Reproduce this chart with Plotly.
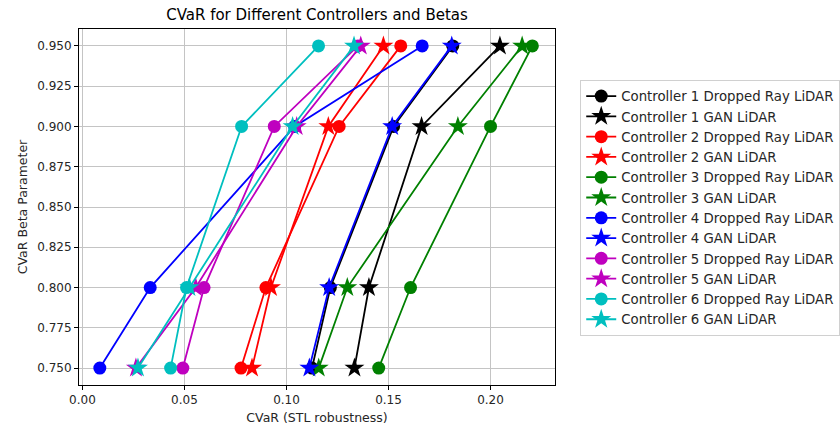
import plotly.graph_objects as go

betas = [0.75, 0.80, 0.90, 0.95]

c1_dropped = [0.1125, 0.1215, 0.1525, 0.1815]
c1_gan = [0.1333, 0.1404, 0.1662, 0.2046]
c2_dropped = [0.0777, 0.0899, 0.1258, 0.1560]
c2_gan = [0.0831, 0.0924, 0.1205, 0.1475]
c3_dropped = [0.1452, 0.1608, 0.2000, 0.2205]
c3_gan = [0.1158, 0.1298, 0.1840, 0.2155]
c4_dropped = [0.0085, 0.0332, 0.1040, 0.1665]
c4_gan = [0.1112, 0.1209, 0.1518, 0.1810]
c5_dropped = [0.0492, 0.0596, 0.0940, 0.1350]
c5_gan = [0.0262, 0.0555, 0.1050, 0.1364]
c6_dropped = [0.0432, 0.0510, 0.0780, 0.1157]
c6_gan = [0.0272, 0.0524, 0.1030, 0.1331]

series = [
    ("Controller 1 Dropped Ray LiDAR", c1_dropped, "#000000", "circle"),
    ("Controller 1 GAN LiDAR", c1_gan, "#000000", "star"),
    ("Controller 2 Dropped Ray LiDAR", c2_dropped, "#ff0000", "circle"),
    ("Controller 2 GAN LiDAR", c2_gan, "#ff0000", "star"),
    ("Controller 3 Dropped Ray LiDAR", c3_dropped, "#008000", "circle"),
    ("Controller 3 GAN LiDAR", c3_gan, "#008000", "star"),
    ("Controller 4 Dropped Ray LiDAR", c4_dropped, "#0000ff", "circle"),
    ("Controller 4 GAN LiDAR", c4_gan, "#0000ff", "star"),
    ("Controller 5 Dropped Ray LiDAR", c5_dropped, "#bf00bf", "circle"),
    ("Controller 5 GAN LiDAR", c5_gan, "#bf00bf", "star"),
    ("Controller 6 Dropped Ray LiDAR", c6_dropped, "#00bfbf", "circle"),
    ("Controller 6 GAN LiDAR", c6_gan, "#00bfbf", "star"),
]

fig = go.Figure()
for name, xs, color, sym in series:
    fig.add_trace(go.Scatter(
        x=xs, y=betas, mode="lines+markers", name=name,
        line=dict(color=color, width=1.8),
        marker=dict(color=color, symbol=sym, size=13 if sym == "circle" else 15,
                    line=dict(width=0)),
    ))

font_family = "DejaVu Sans"
fig.update_layout(
    width=840, height=430,
    margin=dict(l=79, r=285, t=29, b=45, autoexpand=False),
    paper_bgcolor="white", plot_bgcolor="white",
    font=dict(family=font_family, size=12, color="#262626"),
    title=dict(text="CVaR for Different Controllers and Betas", x=(79 + 555) / 2 / 840,
               xanchor="center", y=1 - 15 / 430, yanchor="middle",
               font=dict(size=15, color="#000000")),
    showlegend=True,
    legend=dict(x=1.053, xanchor="left", y=0.857, yanchor="top",
                bordercolor="#d0d0d0", borderwidth=1, bgcolor="white",
                font=dict(size=13.3, color="#262626"), itemwidth=30),
)
fig.update_xaxes(
    range=[-0.0017, 0.2316], tickvals=[0.0, 0.05, 0.10, 0.15, 0.20], tickformat=".2f",
    showgrid=True, gridcolor="#c4c4c4", gridwidth=1,
    showline=True, linecolor="#000000", linewidth=1, mirror=True,
    ticks="outside", ticklen=4, tickcolor="#000000", zeroline=False,
    title=dict(text="CVaR (STL robustness)", font=dict(size=12.5, color="#262626"), standoff=6),
)
fig.update_yaxes(
    range=[0.7395, 0.9605], tickvals=[0.75, 0.775, 0.80, 0.825, 0.85, 0.875, 0.90, 0.925, 0.95],
    tickformat=".3f",
    showgrid=True, gridcolor="#c4c4c4", gridwidth=1,
    showline=True, linecolor="#000000", linewidth=1, mirror=True,
    ticks="outside", ticklen=4, tickcolor="#000000", zeroline=False,
    title=dict(text="CVaR Beta Parameter", font=dict(size=12.5, color="#262626"), standoff=6),
)

fig.write_html("out.html")
